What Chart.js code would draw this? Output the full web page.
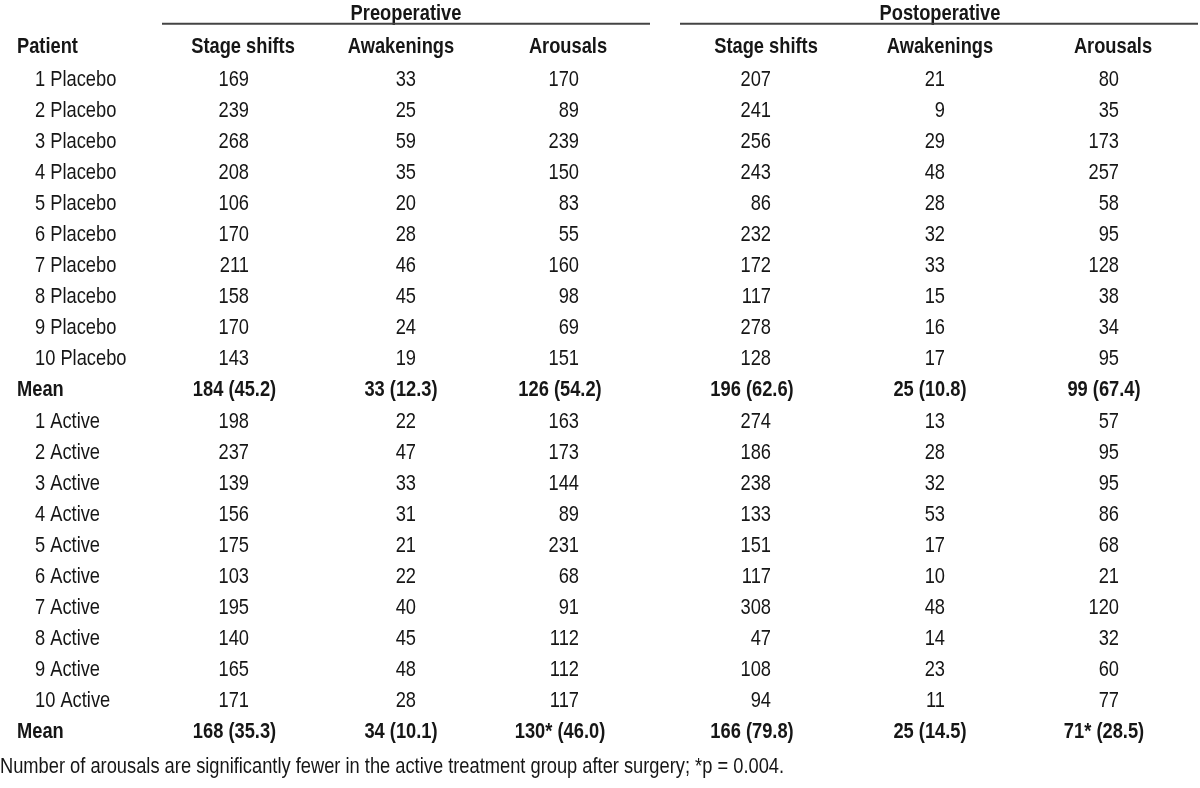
<!DOCTYPE html>
<html>
<head>
<meta charset="utf-8">
<script src="https://cdn.jsdelivr.net/npm/chart.js@4.4.1/dist/chart.umd.min.js"></script>
<style>
  html, body { margin: 0; padding: 0; background: #fff; }
  #wrap { width: 1200px; height: 788px; position: relative; }
</style>
</head>
<body>
<div id="wrap"><canvas id="tableChart"></canvas></div>
<script>
// table data
var placeboPatients = ['1 Placebo', '2 Placebo', '3 Placebo', '4 Placebo', '5 Placebo',
                       '6 Placebo', '7 Placebo', '8 Placebo', '9 Placebo', '10 Placebo'];
var activePatients = ['1 Active', '2 Active', '3 Active', '4 Active', '5 Active',
                      '6 Active', '7 Active', '8 Active', '9 Active', '10 Active'];

var groupTitles = ['Preoperative', 'Postoperative'];
var columnTitles = ['Stage shifts', 'Awakenings', 'Arousals', 'Stage shifts', 'Awakenings', 'Arousals'];

// placebo group, one array per column
var placeboPreStage   = [169, 239, 268, 208, 106, 170, 211, 158, 170, 143];
var placeboPreAwake   = [33, 25, 59, 35, 20, 28, 46, 45, 24, 19];
var placeboPreArous   = [170, 89, 239, 150, 83, 55, 160, 98, 69, 151];
var placeboPostStage  = [207, 241, 256, 243, 86, 232, 172, 117, 278, 128];
var placeboPostAwake  = [21, 9, 29, 48, 28, 32, 33, 15, 16, 17];
var placeboPostArous  = [80, 35, 173, 257, 58, 95, 128, 38, 34, 95];
var placeboMean = [184, 33, 126, 196, 25, 99];
var placeboSD   = [45.2, 12.3, 54.2, 62.6, 10.8, 67.4];
var placeboStar = [false, false, false, false, false, false];

// active group
var activePreStage   = [198, 237, 139, 156, 175, 103, 195, 140, 165, 171];
var activePreAwake   = [22, 47, 33, 31, 21, 22, 40, 45, 48, 28];
var activePreArous   = [163, 173, 144, 89, 231, 68, 91, 112, 112, 117];
var activePostStage  = [274, 186, 238, 133, 151, 117, 308, 47, 108, 94];
var activePostAwake  = [13, 28, 32, 53, 17, 10, 48, 14, 23, 11];
var activePostArous  = [57, 95, 95, 86, 68, 21, 120, 32, 60, 77];
var activeMean = [168, 34, 130, 166, 25, 71];
var activeSD   = [35.3, 10.1, 46.0, 79.8, 14.5, 28.5];
var activeStar = [false, false, true, false, false, true];

var footNote = 'Number of arousals are significantly fewer in the active treatment group after surgery; *p = 0.004.';

// layout / style (positions on the 0..1200 x scale)
var valueRight  = [249, 416, 579, 771, 945, 1119];
var meanCenter  = [234.5, 401, 560, 752, 930, 1104];
var headCenter  = [243, 401, 568, 766, 940, 1113];
var groupCenter = [406, 940];
var groupRule   = [[162, 650], [680, 1198]];
var patientX = 35, meanLabelX = 17;
var fontSize = 22.3;
var textColor = '#161616';

// build rows
var placeboCols = [placeboPreStage, placeboPreAwake, placeboPreArous, placeboPostStage, placeboPostAwake, placeboPostArous];
var activeCols  = [activePreStage, activePreAwake, activePreArous, activePostStage, activePostAwake, activePostArous];

function meanText(m, sd, star) {
    return m + (star ? '*' : '') + ' (' + sd.toFixed(1) + ')';
}

var rows = [];
placeboPatients.forEach(function (p, i) {
    rows.push({ label: p, mean: false, cells: placeboCols.map(function (c) { return String(c[i]); }) });
});
rows.push({ label: 'Mean', mean: true, cells: placeboMean.map(function (m, k) { return meanText(m, placeboSD[k], placeboStar[k]); }) });
activePatients.forEach(function (p, i) {
    rows.push({ label: p, mean: false, cells: activeCols.map(function (c) { return String(c[i]); }) });
});
rows.push({ label: 'Mean', mean: true, cells: activeMean.map(function (m, k) { return meanText(m, activeSD[k], activeStar[k]); }) });

var rowLabels = rows.map(function (r) { return r.label; });

// is the narrow font there? otherwise squeeze Liberation Sans
var probe = document.createElement('canvas').getContext('2d');
probe.font = '40px "Liberation Sans Narrow", monospace';
var w1 = probe.measureText('Stage shifts Placebo').width;
probe.font = '40px monospace';
var w2 = probe.measureText('Stage shifts Placebo').width;
var hasNarrow = Math.abs(w1 - w2) > 1;
var family = hasNarrow ? '"Liberation Sans Narrow", "Liberation Sans", Arial, sans-serif' : '"Liberation Sans", Arial, sans-serif';
var squeeze = hasNarrow ? 1 : 0.82;

function drawText(ctx, str, x, yc, align, bold) {
    ctx.font = (bold ? 'bold ' : '') + fontSize + 'px ' + family;
    ctx.textAlign = align;
    ctx.textBaseline = 'alphabetic';
    var base = yc + 0.358 * fontSize;
    ctx.save();
    ctx.translate(x, base);
    ctx.scale(squeeze, 1);
    ctx.fillText(str, 0, 0);
    ctx.restore();
}

var tablePlugin = {
    id: 'tablePlugin',
    beforeDraw: function (chart) {
        var ctx = chart.ctx;
        ctx.save();
        ctx.fillStyle = '#fff';
        ctx.fillRect(0, 0, chart.width, chart.height);
        ctx.restore();
    },
    afterDraw: function (chart) {
        var ctx = chart.ctx;
        var xs = chart.scales.x, ys = chart.scales.y;
        var step = ys.getPixelForValue(1) - ys.getPixelForValue(0);
        var headY = ys.getPixelForValue(0) - step * 1.07;
        var groupY = headY - step * 1.07;
        var ruleY = groupY + 12.3;
        ctx.save();
        ctx.fillStyle = textColor;

        // group titles and rules
        groupTitles.forEach(function (t, g) {
            drawText(ctx, t, xs.getPixelForValue(groupCenter[g]), groupY, 'center', true);
            ctx.strokeStyle = '#444';
            ctx.lineWidth = 2;
            ctx.beginPath();
            ctx.moveTo(xs.getPixelForValue(groupRule[g][0]), ruleY);
            ctx.lineTo(xs.getPixelForValue(groupRule[g][1]), ruleY);
            ctx.stroke();
        });

        // column headers
        drawText(ctx, 'Patient', xs.getPixelForValue(meanLabelX), headY, 'left', true);
        columnTitles.forEach(function (t, k) {
            drawText(ctx, t, xs.getPixelForValue(headCenter[k]), headY, 'center', true);
        });

        // body
        rows.forEach(function (r, i) {
            var y = ys.getPixelForValue(i);
            drawText(ctx, r.label, xs.getPixelForValue(r.mean ? meanLabelX : patientX), y, 'left', r.mean);
            r.cells.forEach(function (c, k) {
                if (r.mean) {
                    drawText(ctx, c, xs.getPixelForValue(meanCenter[k]), y, 'center', true);
                } else {
                    drawText(ctx, c, xs.getPixelForValue(valueRight[k]), y, 'right', false);
                }
            });
        });

        // foot note
        var lastY = ys.getPixelForValue(rows.length - 1);
        drawText(ctx, footNote, xs.getPixelForValue(0), lastY + step * 1.13, 'left', false);
        ctx.restore();
    }
};

var ctx = document.getElementById('tableChart').getContext('2d');
var tableChart = new Chart(ctx, {
    type: 'scatter',
    data: { labels: rowLabels, datasets: [] },
    options: {
        responsive: true,
        maintainAspectRatio: false,
        animation: false,
        devicePixelRatio: 1,
        layout: { padding: { top: 78, bottom: 58, left: 0, right: 0 } },
        plugins: { legend: { display: false }, tooltip: { enabled: false } },
        scales: {
            x: { type: 'linear', min: 0, max: 1200, display: false },
            y: { type: 'category', labels: rowLabels, offset: false, display: false }
        }
    },
    plugins: [tablePlugin]
});
</script>
</body>
</html>
